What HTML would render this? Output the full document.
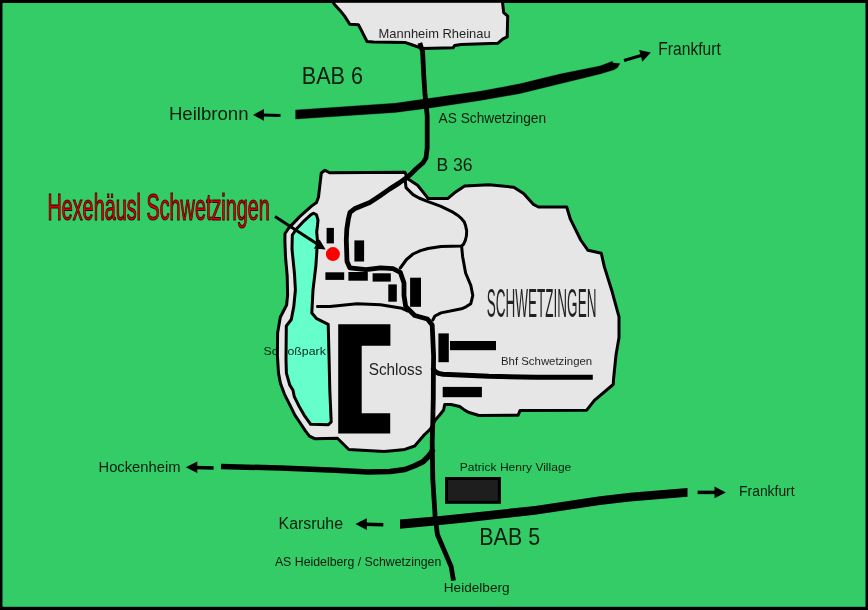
<!DOCTYPE html>
<html><head><meta charset="utf-8">
<style>
html,body{margin:0;padding:0;background:#000;}
body{width:868px;height:610px;overflow:hidden;}
svg{display:block;}
text{font-family:"Liberation Sans",sans-serif;}
#txt{will-change:transform;}
</style></head><body>
<svg width="868" height="610" viewBox="0 0 868 610">
<defs><clipPath id="cpk"><rect x="0" y="0" width="276" height="610"/><rect x="287.2" y="0" width="600" height="610"/></clipPath></defs>
<g id="map">
<rect x="0" y="0" width="868" height="610" fill="#000"/>
<rect x="2.5" y="2.8" width="863" height="604" fill="#33cc66"/>

<!-- Mannheim -->
<path d="M330.5,-2 L334.5,4.5 L340,10.4 L344.6,16.1 L349.8,24.2 L358.4,24.8 L362.4,32.3 L367,41.5 L373.4,42 L405.6,42.6 L412.6,45 L421.9,48.4 L453,47.8 L454.7,45.5 L461,44.4 L498,43.2 L502.6,39.2 L507.2,36.9 L507.7,16.1 L503.7,12.7 L502,-2 Z" fill="#e6e6e6" stroke="#000" stroke-width="3" stroke-linejoin="round"/>
<rect x="0" y="0" width="868" height="2.8" fill="#000"/>

<!-- Town outline -->
<path id="town" d="M321.3,173 L325,170.2 L329.5,172.8 L405,172.3 L407.3,178.4 L417.6,185.3 L426.9,196.9 L428,198.6 L447.6,198.6 L454.5,192.8 L464.6,186 L489,184.8 L513.8,187.2 L523.6,193.4 L533.5,204.4 L538.4,207 L566.7,207 L570.4,219.2 L580.7,240 L588,250.3 L601.3,253.3 L604.3,266.6 L611.7,290.2 L619,316.8 L619,337.4 L616,355.1 L613.6,378.7 L613.2,384.5 L594.4,400.3 L586.7,410.2 L520.1,410.4 L518.1,415.3 L479,415.5 L468.3,412.3 L463.7,409.4 L459.7,406.5 L451,404.5 L444.7,404.5 L443.6,410 L439.5,415.2 L435.5,419.8 L433.8,422.6 L431.5,427.5 L429.4,430 L423.5,435.7 L414.7,446 L404.8,449.4 L395,450.4 L384,451.5 L348.8,449.5 L337.4,438.2 L314.6,438.7 L309.4,436.1 L305.4,430.9 L300.2,423 L294.9,415.1 L289.7,404.6 L284.4,394.1 L280.5,383.6 L278.5,373.1 L277.4,355.6 L277.6,333 L280.3,317.2 L286.6,305 L287.6,295 L287.2,275.9 L285.5,257 L284.9,241 L285,233.5 L288.5,228.4 L299.7,216.6 L311.5,206.1 L316.5,202.5 L318.5,197 Z" fill="#e6e6e6" stroke="#000" stroke-width="3" stroke-linejoin="round"/>

<!-- Schlosspark -->
<path d="M311,214.6 L313.5,213.2 L316.5,214.8 L318,220 L317.6,224.5 L316.7,232 L317.5,241 L315.9,265.6 L313,290 L311.8,313 L316.7,318.7 L328.2,324.4 L329,355.6 L329.8,390 L331.2,422 L328.4,424.7 L310.7,424.3 L304.1,415.1 L298.9,405.9 L294.3,396.7 L293,390.2 L289.7,384.9 L286.4,373.1 L286,360 L286.3,326 L291.3,319.5 L293.8,306.4 L295.4,290 L294.5,273.8 L292,249.2 L292.3,235 L296.4,229.1 L303,221.9 Z" fill="#66ffcc" stroke="#000" stroke-width="3" stroke-linejoin="round"/>

<!-- inner roads -->
<g fill="none" stroke="#000" stroke-linejoin="round" stroke-linecap="round">
<path d="M405,178.4 L406,187.6 L413,194.6 L419,198 L426.7,201.2 L441,206.3 L453.3,212.4 L458,215.5 L461.5,218.6 L464.3,222 L465.6,225.8 L466.7,231 L466.4,236 L465.3,240.5 L463.6,244.2 L461.6,246.1 L441,246.5 L428,248.5 L420.5,250.6 L413,254 L406.5,259.5 L400.3,268" stroke-width="3"/>
<path d="M461.6,246.1 L462.6,256.5 L465.6,273 L470.8,285.3 L472.8,295.5 L470.8,303.7 L466,306.8 L461.5,308.8 L441,312.9 L434.9,316 L432.8,320" stroke-width="3"/>
<path d="M317.5,306.4 L330,306.5 L357,303.8 L380.5,304.7 L402,308.3 L407.5,311" stroke-width="3"/>
<path d="M433,368 Q434,373.2 443,374.2 L489,376.3 L535.2,377.3 L592.8,377.3" stroke-width="5" stroke-linecap="butt"/>
</g>

<!-- B36 main road -->
<path d="M419.8,43 L422.6,51.5 L423.7,74.5 L424.9,92.9 L427.2,115.9 L427.2,148 L426,157.9 L423.1,162.8 L416.2,168.7 L410.3,174.6 L405.4,178.5 L399.3,182.9 L389.5,189.1 L379.7,196 L369.8,202.5 L360,206.5 L354.5,208.8 L350,212.3 L348.3,219.3 L346.8,229.2 L346.3,240 L347,261.5 L349.8,267.8 L366,269.6 L380.5,267.8 L393,268.7 L400.3,272.3 L404,283 L404,295.7 L405.7,306.5 L414.7,315.5 L427.4,319 L432.2,325 L433.6,356 L433.4,370.3 L433.3,397 L432.8,421.5 L432.2,442.2 L432.8,479.5 L435.1,516 L437.4,534.5 L444.3,550.6 L451.2,566.8 L453.5,580.6" fill="none" stroke="#000" stroke-width="4.8" stroke-linejoin="round"/>

<!-- Hockenheim road -->
<path d="M221,466.4 L280.7,468.1 L335.4,470.3 L368.2,472 L390,471.5 L405,469.5 L414.7,465.8 L423,461.8 L428.3,456.5 L431.4,452.4 L433,449" fill="none" stroke="#000" stroke-width="5.5" stroke-linejoin="round"/>

<!-- buildings -->
<g fill="#000">
<rect x="326.6" y="227.9" width="7.3" height="15.5"/>
<rect x="354.4" y="240.4" width="9.7" height="21.1"/>
<rect x="325.4" y="272.3" width="18.8" height="7.6"/>
<rect x="348.4" y="272" width="19.4" height="8.7"/>
<rect x="372.6" y="273.3" width="18.2" height="8.3"/>
<rect x="388.3" y="284.4" width="8.5" height="17.3"/>
<rect x="410.1" y="277.7" width="10.9" height="29.1"/>
<rect x="438.4" y="333.4" width="10.4" height="28.8"/>
<rect x="450" y="341" width="46" height="9.2"/>
<rect x="442.7" y="386.9" width="39.2" height="10.3"/>
<path d="M338.2,324.2 H390.4 V345.7 H361.7 V413.3 H390.2 V433.4 H338.2 Z"/>
</g>

<!-- red dot -->
<circle cx="332.9" cy="254.1" r="7" fill="#ff0000"/>

<!-- Hexe arrow -->
<g fill="#000" stroke="#000">
<line x1="275" y1="216.6" x2="318" y2="244.4" stroke-width="3"/>
<path d="M325.6,249.4 L313.9,248.5 L319.6,239.5 Z" stroke="none"/>
</g>

<!-- BAB6 highway -->
<path d="M295.6,110 L395,103.2 L430,98.3 L480,91.3 L520,83.8 L560,74 L600,65.9 L612.4,61.3 L613,63 L619.9,63.6 L617.6,67.6 L614.1,69.8 L600,74 L560,83.8 L520,93.6 L480,100.5 L430,108 L395,112.5 L295.6,119.1 Z" fill="#000" stroke="#000" stroke-width="0.3" stroke-linejoin="round"/>

<!-- BAB5 highway -->
<path d="M400,519.5 L435,516.5 L460,513.9 L535,506 L600,496.2 L630,492.8 L687.5,487.9 L687.5,496.8 L630,501.6 L600,505 L535,514.8 L460,522.9 L435,525.5 L400,528.8 Z" fill="#000"/>

<!-- arrows -->
<g fill="#000" stroke="#000">
<line x1="262" y1="115" x2="280.5" y2="115.4" stroke-width="3"/>
<path d="M253,114.9 L264,109.1 L264,120.7 Z" stroke="none"/>
<line x1="624" y1="60.5" x2="641" y2="55.5" stroke-width="3"/>
<path d="M650.8,52.6 L639.2,49.9 L642.3,61.7 Z" stroke="none"/>
<line x1="195" y1="467.4" x2="213.6" y2="468.1" stroke-width="3.5"/>
<path d="M185.8,467.2 L197.3,461.5 L197.3,473 Z" stroke="none"/>
<line x1="365" y1="524.2" x2="383.3" y2="524.8" stroke-width="3.5"/>
<path d="M355.4,524.1 L366.8,518.3 L366.8,529.9 Z" stroke="none"/>
<line x1="697.6" y1="492.4" x2="716" y2="492.4" stroke-width="3.5"/>
<path d="M725.8,492.4 L714.5,486.6 L714.5,498.2 Z" stroke="none"/>
</g>

<!-- PHV -->
<rect x="446.5" y="478.5" width="52.9" height="23.8" fill="#1e1e1e" stroke="#000" stroke-width="3"/>

</g>
<!-- texts -->
<g id="txt" fill="#000" fill-opacity="0.86">
<text x="378.6" y="37.7" font-size="12.7" textLength="112.1" lengthAdjust="spacingAndGlyphs">Mannheim Rheinau</text>
<text x="301.8" y="84.2" font-size="23.8" textLength="61.2" lengthAdjust="spacingAndGlyphs">BAB 6</text>
<text x="168.9" y="119.6" font-size="19.1" textLength="79.6" lengthAdjust="spacingAndGlyphs">Heilbronn</text>
<text x="658.3" y="55.0" font-size="17.8" textLength="62.5" lengthAdjust="spacingAndGlyphs">Frankfurt</text>
<text x="438.5" y="122.9" font-size="14.6" textLength="107.6" lengthAdjust="spacingAndGlyphs">AS Schwetzingen</text>
<text x="436.5" y="170.7" font-size="18.9" textLength="36.1" lengthAdjust="spacingAndGlyphs">B 36</text>
<text x="486.8" y="316.6" font-size="41.1" textLength="109.6" lengthAdjust="spacingAndGlyphs">SCHWETZINGEN</text>
<text clip-path="url(#cpk)" x="263.5" y="355.2" font-size="10.5" textLength="62.3" lengthAdjust="spacingAndGlyphs">Schloßpark</text>
<text x="368.7" y="374.8" font-size="16.9" textLength="53.7" lengthAdjust="spacingAndGlyphs">Schloss</text>
<text x="501.0" y="364.5" font-size="10.8" textLength="91.2" lengthAdjust="spacingAndGlyphs">Bhf Schwetzingen</text>
<text x="98.5" y="471.6" font-size="14" textLength="82.0" lengthAdjust="spacingAndGlyphs">Hockenheim</text>
<text x="459.8" y="471.1" font-size="10.8" textLength="111.5" lengthAdjust="spacingAndGlyphs">Patrick Henry Village</text>
<text x="278.6" y="528.9" font-size="16.0" textLength="64.4" lengthAdjust="spacingAndGlyphs">Karsruhe</text>
<text x="739.1" y="496.4" font-size="14" textLength="55.5" lengthAdjust="spacingAndGlyphs">Frankfurt</text>
<text x="479.3" y="545.1" font-size="23.2" textLength="60.8" lengthAdjust="spacingAndGlyphs">BAB 5</text>
<text x="274.9" y="565.6" font-size="13.4" textLength="166.4" lengthAdjust="spacingAndGlyphs">AS Heidelberg / Schwetzingen</text>
<text x="443.8" y="592.0" font-size="13" textLength="65.8" lengthAdjust="spacingAndGlyphs">Heidelberg</text>
</g>
<text x="47.4" y="220" font-size="36.6" textLength="222.4" lengthAdjust="spacingAndGlyphs" fill="#e00000" stroke="#3a0000" stroke-width="1.1">Hexehäusl Schwetzingen</text>
</svg>
</body></html>
